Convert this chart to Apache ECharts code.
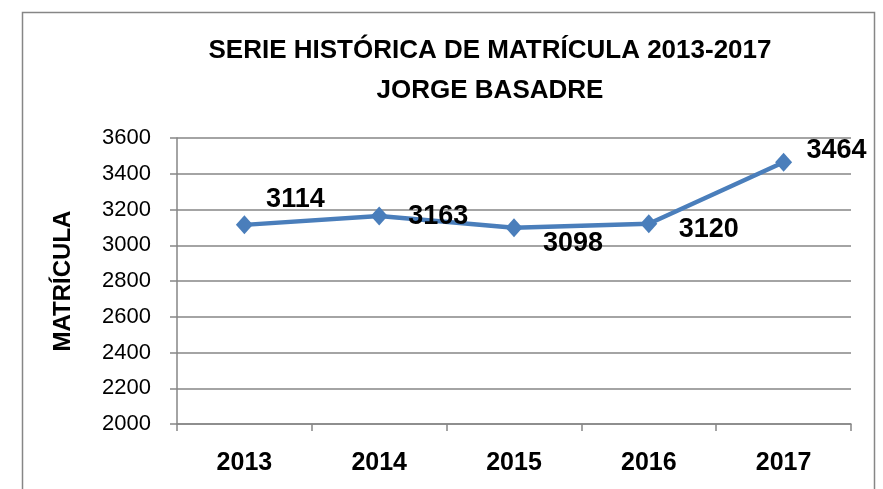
<!DOCTYPE html>
<html><head><meta charset="utf-8">
<script src="https://cdn.jsdelivr.net/npm/echarts@6/dist/echarts.min.js"></script>
<style>html,body{margin:0;padding:0;background:#fff}#c{width:883px;height:489px}</style>
</head><body><div id="c"></div>
<script>
const titleLines = ['SERIE HISTÓRICA DE MATRÍCULA 2013-2017', 'JORGE BASADRE'];
const categories = ['2013', '2014', '2015', '2016', '2017'];
const matricula = [3114, 3163, 3098, 3120, 3464];
const yAxisName = 'MATRÍCULA';
const yMin = 2000, yMax = 3600, yStep = 200;

// label offsets (styling only)
const labelOffsets = [[51, -25], [59, 0], [59, 16], [60, 6], [53, -12]];
const titleY = [51, 91];

const chart = echarts.init(document.getElementById('c'), null, {renderer: 'canvas'});
const gray = '#868686';
const titleFont = {fontFamily: 'Liberation Sans, sans-serif', fontWeight: 'bold', fontSize: 26, fill: '#000'};
chart.setOption({
  animation: false,
  backgroundColor: '#fff',
  graphic: [{
    type: 'rect', left: 20, top: 10, shape: {width: 852, height: 500},
    style: {fill: 'none', stroke: gray, lineWidth: 1.5}, z: 0, silent: true
  }].concat(titleLines.map((t, i) => ({
    type: 'text', x: 490, y: titleY[i], silent: true,
    style: Object.assign({text: t, align: 'center', verticalAlign: 'middle'}, titleFont)
  }))),
  grid: {left: 177, right: 32, top: 138, bottom: 65},
  xAxis: {
    type: 'category', data: categories, boundaryGap: true,
    axisLine: {lineStyle: {color: gray, width: 1.5}},
    axisTick: {show: true, length: 7, lineStyle: {color: gray, width: 1.5}},
    axisLabel: {margin: 27, color: '#000', fontFamily: 'Liberation Sans, sans-serif', fontWeight: 'bold', fontSize: 25}
  },
  yAxis: {
    type: 'value', min: yMin, max: yMax, interval: yStep,
    name: yAxisName, nameLocation: 'middle', nameGap: 102, nameRotate: 90,
    nameTextStyle: {fontFamily: 'Liberation Sans, sans-serif', fontWeight: 'bold', fontSize: 24, color: '#000'},
    axisLine: {show: true, lineStyle: {color: gray, width: 1.5}},
    axisTick: {show: true, length: 7, lineStyle: {color: gray, width: 1.5}},
    splitLine: {show: true, lineStyle: {color: gray, width: 1.5}},
    axisLabel: {margin: 26, color: '#000', fontFamily: 'Liberation Sans, sans-serif', fontSize: 22, formatter: v => String(v)}
  },
  series: [{
    type: 'line',
    data: matricula.map((v, i) => ({
      value: v,
      label: {show: true, position: 'inside', offset: labelOffsets[i]}
    })),
    lineStyle: {color: '#4A7EBB', width: 4.5},
    itemStyle: {color: '#4A7EBB'},
    symbol: 'diamond', symbolSize: [17, 19],
    label: {show: true, color: '#000', fontFamily: 'Liberation Sans, sans-serif', fontWeight: 'bold', fontSize: 27, align: 'center', verticalAlign: 'middle'}
  }]
});
</script></body></html>
